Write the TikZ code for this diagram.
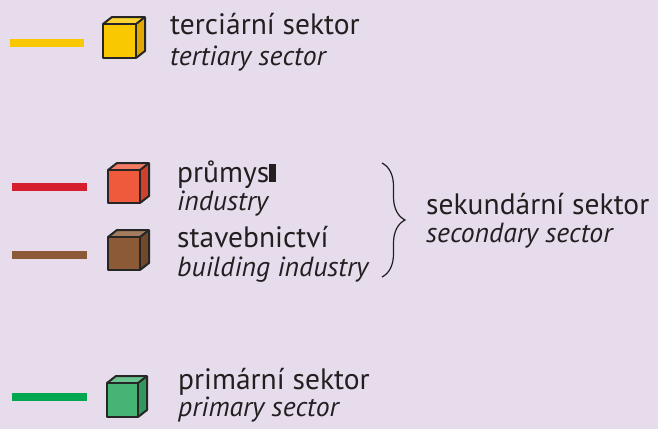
\documentclass[tikz,border=0pt]{standalone}
\usepackage{fontspec}
\setmainfont{PT Sans}
\usetikzlibrary{decorations.pathreplacing}
\definecolor{bgc}{RGB}{230,220,235}
\definecolor{txt}{RGB}{35,31,32}
\definecolor{yel}{RGB}{250,200,0}
\definecolor{yelS}{RGB}{225,168,0}
\definecolor{redl}{RGB}{215,30,45}
\definecolor{redc}{RGB}{240,90,60}
\definecolor{redS}{RGB}{205,65,45}
\definecolor{brl}{RGB}{140,90,55}
\definecolor{brc}{RGB}{140,90,55}
\definecolor{brS}{RGB}{115,72,42}
\definecolor{grl}{RGB}{0,166,80}
\definecolor{grc}{RGB}{70,180,115}
\definecolor{grS}{RGB}{50,150,95}
\newcommand\sectcube[6]{% x y w h front side
  \fill[#5!80!white] (#1,#2) -- ++(9,-7) -- ++(#3,0) -- ++(-9,7) -- cycle;
  \fill[#6] (#1+#3,#2) -- ++(9,-7) -- ++(0,#4) -- ++(-9,7) -- cycle;
  \fill[#5] (#1,#2) rectangle ++(#3,#4);
  \draw[cubeline] (#1,#2) rectangle ++(#3,#4);
  \draw[cubeline] (#1,#2) -- ++(9,-7) -- ++(#3,0) -- ++(0,#4) -- ++(-9,7);
  \draw[cubeline] (#1+#3,#2) -- ++(9,-7);
}
\tikzset{
  cubeline/.style={line width=2pt, line join=round, draw=black!85},
  keyline/.style={line width=7.5pt},
  reg/.style={anchor=base west, text=txt, font=\fontsize{29.5}{29.5}\selectfont, inner sep=0pt},
  ita/.style={anchor=base west, text=txt, font=\fontsize{27.7}{27.7}\selectfont\itshape, inner sep=0pt},
}
\begin{document}
\begin{tikzpicture}[x=1pt,y=-1pt]
\path[use as bounding box, fill=bgc] (0,0) rectangle (658,429);
% key lines
\coordinate (y1) at (10,43); \coordinate (y2) at (84,43);
\coordinate (r1) at (12,187); \coordinate (r2) at (87,187);
\coordinate (b1) at (12,255); \coordinate (b2) at (87,255);
\coordinate (g1) at (12,397); \coordinate (g2) at (87,397);
\draw[keyline, yel] (y1) -- (y2);
\draw[keyline, redl] (r1) -- (r2);
\draw[keyline, brl] (b1) -- (b2);
\draw[keyline, grl] (g1) -- (g2);
% cubes
\sectcube{103}{24}{33}{34}{yel}{yelS}
\sectcube{108}{170}{32}{33}{redc}{redS}
\sectcube{108}{237}{32}{33}{brc}{brS}
\sectcube{107}{383}{31}{34}{grc}{grS}
% texts
\node[reg] (t1) at (170,34) {terciární sektor};
\node[ita] (t2) at (170,65) {tertiary sector};
\node[reg] (p1) at (177,182) {průmys\rule{7pt}{18pt}};
\node[ita] (p2) at (177,210) {industry};
\node[reg] (s1) at (177,247) {stavebnictví};
\node[ita] (s2) at (177,276) {building industry};
\node[reg] (k1) at (426,214) {sekundární sektor};
\node[ita] (k2) at (426,242) {secondary sector};
\node[reg] (m1) at (178,389) {primární sektor};
\node[ita] (m2) at (178,416) {primary sector};
% brace
\coordinate (bt) at (382,163); \coordinate (bb) at (382,277);
\draw[txt, line width=1.2pt, decorate, decoration={brace, amplitude=23pt}] (bt) -- (bb);
\end{tikzpicture}
\end{document}
